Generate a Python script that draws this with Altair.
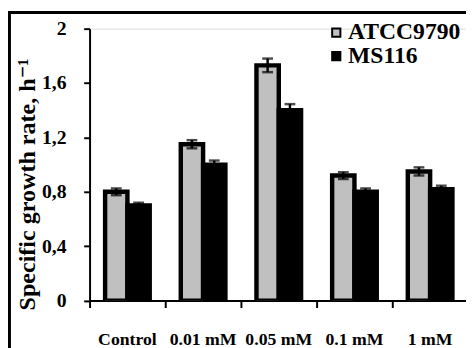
import altair as alt
import pandas as pd

categories = ["Control", "0.01 mM", "0.05 mM", "0.1 mM", "1 mM"]
series = ["ATCC9790", "MS116"]
atcc_values = [0.80, 1.15, 1.73, 0.92, 0.95]
atcc_errors = [0.025, 0.03, 0.05, 0.025, 0.03]
ms_values = [0.70, 1.00, 1.40, 0.80, 0.82]
ms_errors = [0.02, 0.03, 0.045, 0.025, 0.025]
y_ticks = [0, 0.4, 0.8, 1.2, 1.6, 2]

rows = []
for c, v, e in zip(categories, atcc_values, atcc_errors):
    rows.append({"cat": c, "series": series[0], "value": v, "err": e})
for c, v, e in zip(categories, ms_values, ms_errors):
    rows.append({"cat": c, "series": series[1], "value": v, "err": e})
df = pd.DataFrame(rows)

FONT = "'Liberation Serif', 'Times New Roman', 'DejaVu Serif', serif"

x_enc = alt.X("cat:N", sort=categories,
              scale=alt.Scale(domain=categories, range=[0, 385], paddingInner=0, paddingOuter=0),
              axis=alt.Axis(title=None, labelAngle=0, bandPosition=0,
                            labelFont=FONT, labelFontSize=18, labelFontWeight="bold",
                            labelColor="black", labelPadding=24, tickSize=7, tickWidth=2,
                            tickColor="black", domainColor="black", domainWidth=2))
xoff = alt.XOffset("series:N", sort=series,
                   scale=alt.Scale(domain=series, paddingInner=0, paddingOuter=0.696))

base = alt.Chart(df).transform_calculate(
    lo="datum.value - datum.err", hi="datum.value + datum.err")

bars = base.mark_bar(stroke="black", strokeWidth=4.5, clip=True).encode(
    x=x_enc,
    xOffset=xoff,
    y=alt.Y("value:Q",
            scale=alt.Scale(domain=[0, 2], nice=False, zero=True),
            axis=alt.Axis(values=y_ticks, grid=False,
                          labelExpr="datum.value == 0 ? '0' : datum.value == 2 ? '2' : replace(format(datum.value, '.1f'), '.', ',')",
                          labelFont=FONT, labelFontSize=20, labelFontWeight="bold",
                          labelColor="black", labelPadding=18, tickSize=6, tickWidth=2,
                          tickColor="black", domainColor="black", domainWidth=2,
                          title="Specific growth rate, h\u207b\u00b9",
                          titleFont=FONT, titleFontSize=24.5, titleFontWeight="bold",
                          titleColor="black", titleAngle=270, titleAlign="center",
                          titleBaseline="alphabetic", titleX=-56, titleY=158)),
    fill=alt.Fill("series:N", sort=series,
                  scale=alt.Scale(domain=series, range=["#C0C0C0", "#000000"]),
                  legend=alt.Legend(title=None, orient="none", legendX=239, legendY=-8,
                                    labelFont=FONT, labelFontSize=24, labelFontWeight="bold",
                                    labelColor="black", symbolType="square", symbolSize=70,
                                    symbolStrokeColor="black", symbolStrokeWidth=2,
                                    labelOffset=0, rowPadding=0, padding=0)),
)

err_rule = base.mark_rule(color="black", strokeWidth=2.5).encode(
    x=x_enc, xOffset=xoff, y="lo:Q", y2="hi:Q")
cap_hi = base.mark_tick(color="black", thickness=2.5, size=11, orient="horizontal").encode(
    x=x_enc, xOffset=xoff, y="hi:Q")
cap_lo = base.mark_tick(color="black", thickness=2.5, size=11, orient="horizontal").encode(
    x=x_enc, xOffset=xoff, y="lo:Q")

frame_df = pd.DataFrame({"k": [0]})
frame_left = alt.Chart(frame_df).mark_rule(color="black", strokeWidth=3).encode(
    x=alt.value(-81.5), y=alt.value(-18), y2=alt.value(345))
frame_top = alt.Chart(frame_df).mark_rule(color="black", strokeWidth=3).encode(
    x=alt.value(-83), x2=alt.value(400), y=alt.value(-16.5))

chart = alt.layer(bars, err_rule, cap_hi, cap_lo, frame_left, frame_top).properties(
    width=383, height=276.7,
    autosize=alt.AutoSizeParams(type="none"),
    padding={"left": 83, "top": 18, "right": 0, "bottom": 52},
).configure_view(stroke=None).configure(background="white")

chart.save("out.html", embed_options={"renderer": "svg", "actions": False})
